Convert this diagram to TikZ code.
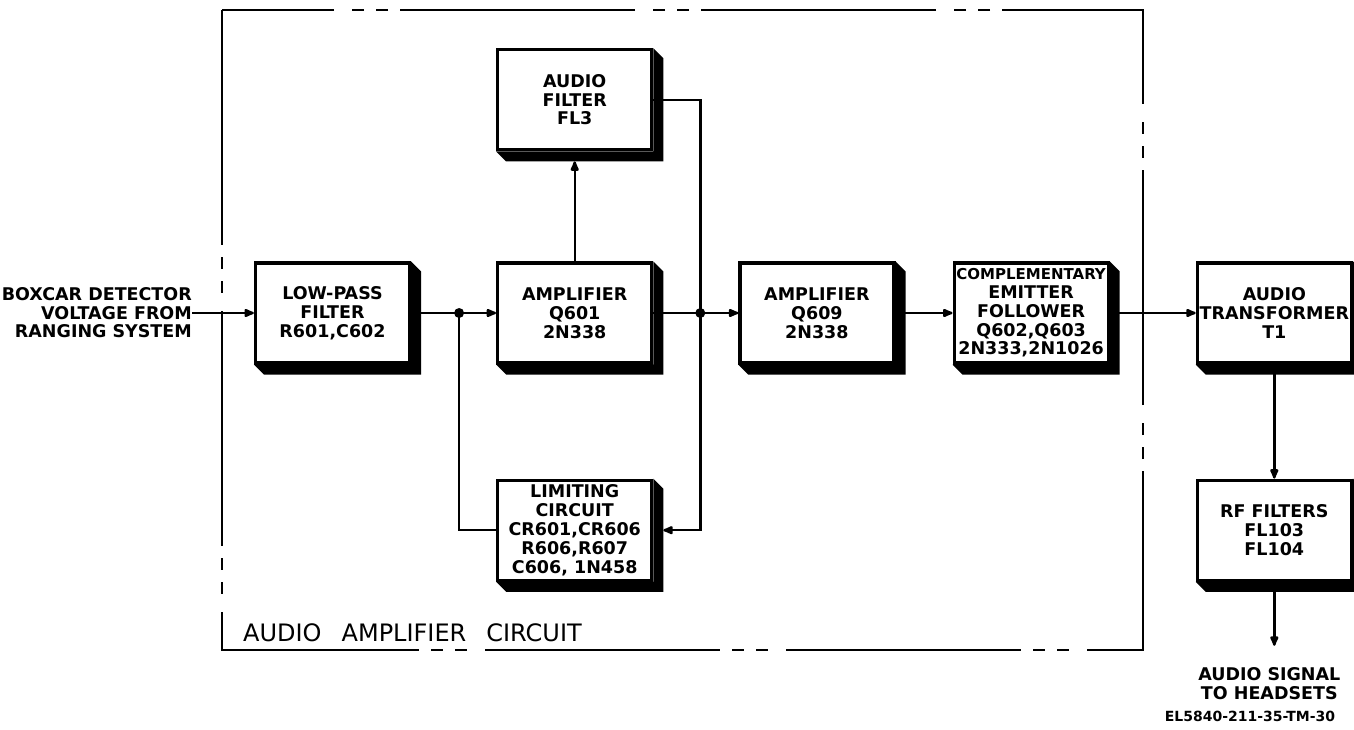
\documentclass[tikz,border=0pt]{standalone}
\usepackage{fontspec}
\setmainfont{DejaVu Sans}
\usetikzlibrary{arrows.meta,positioning}

\tikzset{
  blk/.style={draw, line width=3.2pt, minimum width=154pt, minimum height=100pt, inner sep=1pt, align=center, font=\fontsize{17.5}{18.8}\selectfont\bfseries},
  wire/.style={line width=2.4pt},
  arr/.style={wire, -{Latex[length=13pt,width=10pt,round]}},
  lbl/.style={font=\fontsize{17.5}{18.5}\selectfont\bfseries, inner sep=0pt}
}

\begin{document}
\begin{tikzpicture}[x=1pt, y=-1pt, node distance=85pt]
    \useasboundingbox (0,0) rectangle (1354,730);

    % dashed frame of the amplifier board
    \draw[line width=2.8pt, dash pattern=on 235pt off 12pt on 12pt off 12pt on 12pt off 18pt] (222,10) rectangle (1143,650);
    \node (frm) [anchor=base west, inner sep=0pt, font=\fontsize{24}{24}\selectfont] at (243,641) {AUDIO\hspace{20pt}AMPLIFIER\hspace{20pt}CIRCUIT};

    \node[blk] (lpf) at (332.5,313) {LOW-PASS\\FILTER\\R601,C602};
    \node[blk] (amp1) [right=of lpf] {AMPLIFIER\\Q601\\2N338};
    \node[blk] (fl3) [above=110pt of amp1] {AUDIO\\FILTER\\FL3};
    \node[blk] (lim) [below=114pt of amp1] {LIMITING\\CIRCUIT\\CR601,CR606\\R606,R607\\C606, 1N458};
    \node[blk] (amp2) [right=of amp1] {AMPLIFIER\\Q609\\2N338};
    \node[blk] (cef) [right=57pt of amp2] {{\fontsize{15}{18.8}\selectfont COMPLEMENTARY}\\EMITTER\\FOLLOWER\\Q602,Q603\\2N333,2N1026};
    \node[blk] (xfmr) [right=86pt of cef] {AUDIO\\TRANSFORMER\\T1};
    \node[blk] (rf) [below=114pt of xfmr] {RF FILTERS\\FL103\\FL104};

    % shadows
    \foreach \n in {lpf,amp1,fl3,lim,amp2,cef,xfmr,rf}
        \fill (\n.north east) -- ([shift={(10pt,-10pt)}]\n.north east) -- ([shift={(10pt,-10pt)}]\n.south east)
            -- ([shift={(10pt,-10pt)}]\n.south west) -- (\n.south west) -- (\n.south east) -- cycle;

    \node[lbl, align=right] (src) [anchor=east] at (192,313) {BOXCAR DETECTOR\\VOLTAGE FROM\\RANGING SYSTEM};
    \coordinate[below=64pt of rf.south] (hs);
    \node[lbl, align=center] (out) [below=22pt of hs, xshift=-5pt] {AUDIO SIGNAL\\TO HEADSETS};
    \node (fig) [font=\fontsize{14}{14}\selectfont\bfseries, inner sep=0pt] at (1250,716) {EL5840-211-35-TM-30};

    \coordinate[right=48pt of lpf.east] (jl);
    \coordinate[right=47pt of amp1.east] (jr);

    \draw[arr] (src) -- (lpf);
    \draw[arr] (lpf) -- (amp1);
    \draw[arr] (amp1) -- ([yshift=-10pt]fl3.south);
    \draw[wire] (jl) |- (lim);
    \draw[arr] (fl3.east) -| (jr) |- ([xshift=10pt]lim.east);
    \draw[wire] (amp1) -- (jr);
    \draw[arr] (jr) -- (amp2);
    \draw[arr] (amp2) -- (cef);
    \draw[arr] (cef) -- (xfmr);
    \draw[arr] (xfmr) -- (rf);
    \draw[arr] (rf) -- (hs);
    \fill (jl) circle (5pt);
    \fill (jr) circle (5pt);
\end{tikzpicture}
\end{document}
